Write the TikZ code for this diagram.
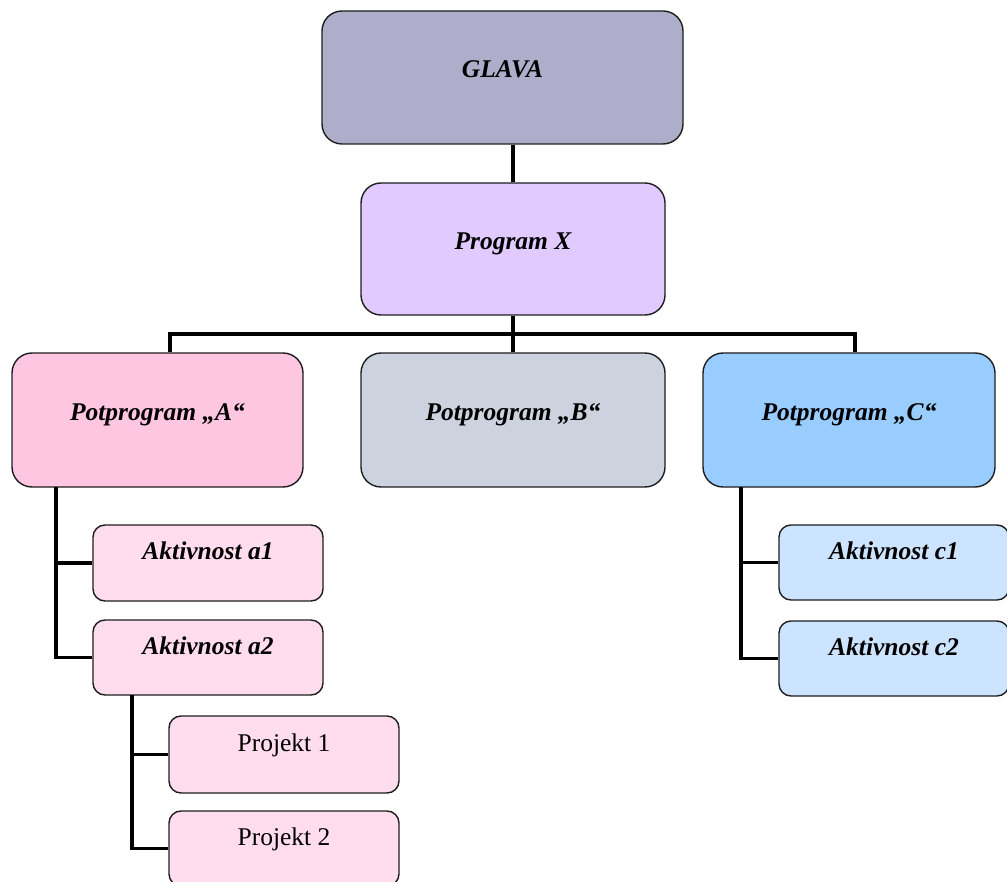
\documentclass[tikz,border=0pt]{standalone}
\usepackage{fontspec}
\setmainfont{Liberation Serif}
\definecolor{cglava}{RGB}{174,174,202}
\definecolor{cprog}{RGB}{224,202,255}
\definecolor{cpa}{RGB}{255,198,226}
\definecolor{cpb}{RGB}{204,211,222}
\definecolor{cpc}{RGB}{153,204,255}
\definecolor{cak}{RGB}{255,220,238}
\definecolor{cck}{RGB}{204,228,255}
\definecolor{cline}{RGB}{30,30,30}
\begin{document}
\begin{tikzpicture}[x=1pt,y=1pt,
  box/.style={draw=cline, line width=1.4pt, inner sep=0pt,
    font=\fontsize{25.5}{28}\selectfont\bfseries\itshape},
  bigbox/.style={box, rounded corners=20pt, text height=20pt, text depth=19pt},
  smallbox/.style={box, rounded corners=12pt, text height=20pt, text depth=27pt,
    minimum width=230pt},
  plain/.style={font=\fontsize{25.5}{28}\selectfont\upshape\mdseries},
  mainconn/.style={line width=4.5pt, black},
  subconn/.style={line width=3.2pt, black}]
\useasboundingbox (0,0) rectangle (1007,-882);
\clip (0,0) rectangle (1007,-882);
\node[bigbox, fill=cglava, minimum width=361pt, minimum height=133pt] (glava) at (502.5,-77.5) {GLAVA};
\node[bigbox, fill=cprog, minimum width=304pt, minimum height=132pt] (px) at (513,-249) {Program X};
\node[bigbox, fill=cpa, minimum width=291pt, minimum height=134pt] (a) at (157.5,-420) {Potprogram „A“};
\node[bigbox, fill=cpb, minimum width=304pt, minimum height=134pt] (b) at (513,-420) {Potprogram „B“};
\node[bigbox, fill=cpc, minimum width=292pt, minimum height=134pt] (c) at (849,-420) {Potprogram „C“};
\node[smallbox, fill=cak, minimum height=76pt] (a1) at (208,-563) {Aktivnost a1};
\node[smallbox, fill=cak, minimum height=75pt] (a2) at (208,-657.5) {Aktivnost a2};
\node[smallbox, fill=cak, minimum height=77pt, plain] (p1) at (284,-754.5) {Projekt 1};
\node[smallbox, fill=cak, minimum height=75pt, plain] (p2) at (284,-848.5) {Projekt 2};
\node[smallbox, fill=cck, minimum height=75pt] (c1) at (894,-562.5) {Aktivnost c1};
\node[smallbox, fill=cck, minimum height=75pt] (c2) at (894,-658.5) {Aktivnost c2};
% main connectors
\coordinate (bl) at (170,-334);
\coordinate (br) at (855,-334);
\draw[mainconn] (px.north |- glava.south) -- (px.north);
\draw[mainconn] (px.south) -- (px.south |- bl);
\draw[mainconn] (bl |- a.north) -- (bl) -- (br) -- (br |- c.north);
\draw[mainconn] (b.north) -- (b.north |- bl);
% A children
\coordinate (av) at (56,-487);
\draw[subconn] (av) |- (a2.west);
\draw[subconn] (av |- a1.west) -- (a1.west);
% a2 children
\coordinate (pv) at (132,-695);
\draw[subconn] (pv) |- (p2.west);
\draw[subconn] (pv |- p1.west) -- (p1.west);
% C children
\coordinate (cv) at (741,-487);
\draw[subconn] (cv) |- (c2.west);
\draw[subconn] (cv |- c1.west) -- (c1.west);
\end{tikzpicture}
\end{document}
